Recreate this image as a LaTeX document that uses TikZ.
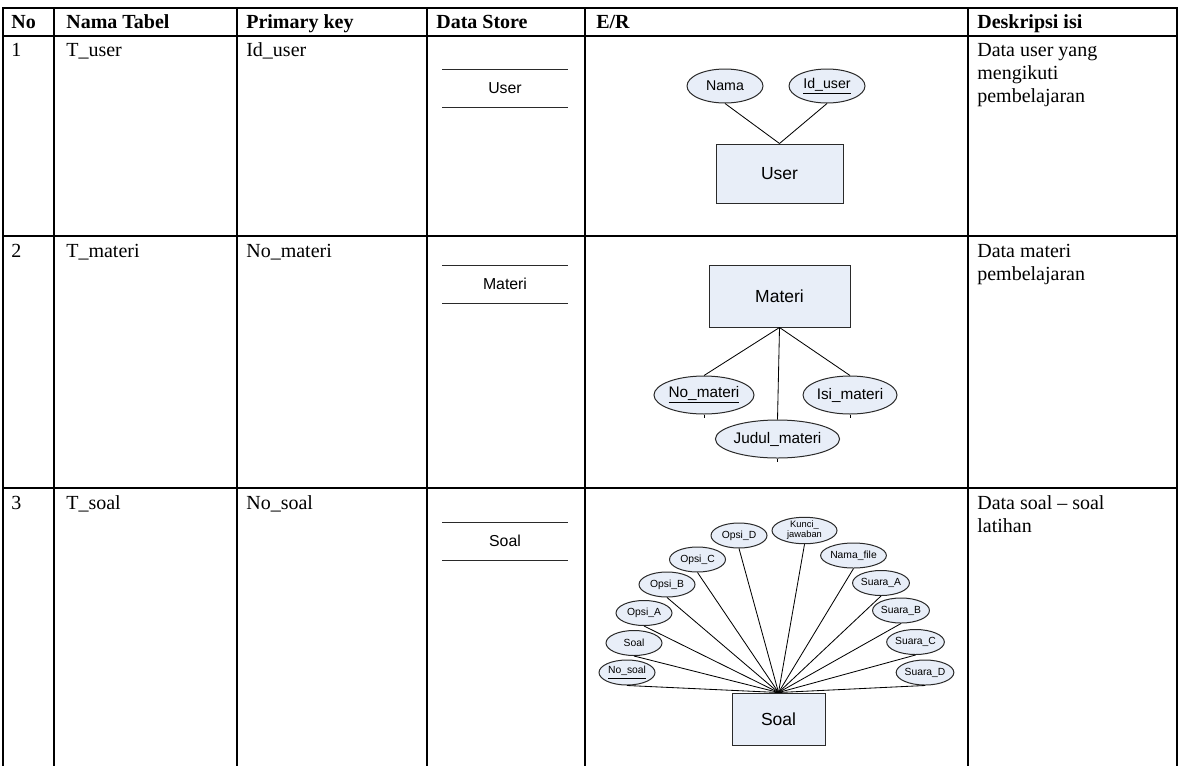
\documentclass[tikz,border=0pt]{standalone}
\usepackage{fontspec}
\setmainfont{Liberation Serif}
\setsansfont{Liberation Sans}
\usetikzlibrary{shapes.geometric}
\definecolor{erfill}{HTML}{E8EEF8}
\definecolor{erline}{HTML}{2A2A2A}
\begin{document}
\begin{tikzpicture}[x=0.6pt,y=-0.6pt,
  grid/.style={line width=1.1pt,line cap=rect},
  cell/.style={anchor=base west,inner sep=0pt,font=\fontsize{12}{13.8}\selectfont},
  head/.style={anchor=base west,inner sep=0pt,font=\fontsize{12}{13.8}\selectfont\bfseries},
  storeline/.style={draw=erline,line width=0.6pt},
  storetext/.style={inner sep=0pt,font=\sffamily\fontsize{9.5}{11}\selectfont},
  attr/.style={ellipse,draw=erline,fill=erfill,line width=0.6pt,inner sep=0pt,font=\sffamily\fontsize{8.5}{10}\selectfont},
  attrm/.style={attr,font=\sffamily\fontsize{9.2}{10}\selectfont,minimum height=22.8pt},
  attrs/.style={attr,font=\sffamily\fontsize{6.2}{7}\selectfont,minimum width=33.6pt,minimum height=15pt},
  ent/.style={rectangle,draw=erline,fill=erfill,line width=0.6pt,inner sep=0pt,font=\sffamily\fontsize{10.5}{12}\selectfont},
  conn/.style={draw=black,line width=0.5pt}]
\useasboundingbox (0,0) rectangle (1179,765);

% ---------- table grid ----------
\foreach \yy in {8,36,236,488}
  \draw[grid] (3,\yy) -- (1177,\yy);
\foreach \xx in {3,54,237,427,585,968,1177}
  \draw[grid] (\xx,8) -- (\xx,770);

% ---------- header ----------
\node[head] (hNo) at (11,29) {No};
\node[head] (hNama) at (66,29) {Nama Tabel};
\node[head] (hPK) at (246,29) {Primary key};
\node[head] (hDS) at (436,29) {Data Store};
\node[head] (hER) at (596,29) {E/R};
\node[head] (hDesk) at (977,29) {Deskripsi isi};

% ---------- row 1 ----------
\node[cell] (n1) at (11,56) {1};
\node[cell] (t1) at (66,56) {T\_user};
\node[cell] (k1) at (246,56) {Id\_user};
\node[cell] (d1a) at (977,56) {Data user yang};
\node[cell] (d1b) at (977,79) {mengikuti};
\node[cell] (d1c) at (977,102) {pembelajaran};
\draw[storeline] (442,69) -- (568,69);
\draw[storeline] (442,107) -- (568,107);
\node[storetext] (s1) at (505,88) {User};

\node[attr,minimum width=45.6pt,minimum height=20.4pt] (nama) at (725,86) {Nama};
\node[attr,minimum width=45.6pt,minimum height=20.4pt] (iduser) at (827,86) {\underline{Id\_user}};
\node[ent,minimum width=76.2pt,minimum height=35.4pt] (user) at (779.5,173.5) {User};
\draw[conn] (nama.south) -- (user.north);
\draw[conn] (iduser.south) -- (user.north);

% ---------- row 2 ----------
\node[cell] (n2) at (11,257) {2};
\node[cell] (t2) at (66,257) {T\_materi};
\node[cell] (k2) at (246,257) {No\_materi};
\node[cell] (d2a) at (977,257) {Data materi};
\node[cell] (d2b) at (977,280) {pembelajaran};
\draw[storeline] (442,265) -- (568,265);
\draw[storeline] (442,303) -- (568,303);
\node[storetext] (s2) at (505,284) {Materi};

\node[ent,minimum width=84.6pt,minimum height=37.2pt] (materi) at (779.5,296) {Materi};
\node[attrm,minimum width=51.6pt] (nomateri) at (704,395) {\underline{No\_materi}};
\node[attrm,minimum width=50.4pt] (isimateri) at (850,395) {Isi\_materi};
\node[attrm,minimum width=58.2pt] (judul) at (777.5,439) {Judul\_materi};
\draw[conn] (materi.south) -- (nomateri.north);
\draw[conn] (materi.south) -- (judul.north);
\draw[conn] (materi.south) -- (isimateri.north);
\draw[conn] (nomateri.south) -- ++(0,3);
\draw[conn] (isimateri.south) -- ++(0,3);
\draw[conn] (judul.south) -- ++(0,3);

% ---------- row 3 ----------
\node[cell] (n3) at (11,509) {3};
\node[cell] (t3) at (66,509) {T\_soal};
\node[cell] (k3) at (246,509) {No\_soal};
\node[cell] (d3a) at (977,509) {Data soal -- soal};
\node[cell] (d3b) at (977,532) {latihan};
\draw[storeline] (442,522) -- (568,522);
\draw[storeline] (442,560) -- (568,560);
\node[storetext] (s3) at (505,541) {Soal};

\node[ent,minimum width=55.8pt,minimum height=31.2pt] (soalE) at (778.5,719) {Soal};
\node[attrs] (nosoal) at (627,672.5) {\underline{No\_soal}};
\node[attrs] (soal) at (634,643) {Soal};
\node[attrs] (opsia) at (644,613) {Opsi\_A};
\node[attrs] (opsib) at (667,584.5) {Opsi\_B};
\node[attrs] (opsic) at (697.5,559.5) {Opsi\_C};
\node[attrs] (opsid) at (739,535.5) {Opsi\_D};
\node[attrs,minimum width=39pt,align=center,font=\sffamily\fontsize{5.6}{6}\selectfont] (kunci) at (804.5,530.5) {Kunci\_\\jawaban};
\node[attrs] (namafile) at (853.5,555.5) {Nama\_file};
\node[attrs] (suaraa) at (881,583) {Suara\_A};
\node[attrs] (suarab) at (901,610.5) {Suara\_B};
\node[attrs] (suarac) at (915.5,642) {Suara\_C};
\node[attrs] (suarad) at (925,672.5) {Suara\_D};
\foreach \a in {nosoal,soal,opsia,opsib,opsic,opsid,kunci,namafile,suaraa,suarab,suarac,suarad}
  \draw[conn] (\a.south) -- (soalE.north);
\end{tikzpicture}
\end{document}
